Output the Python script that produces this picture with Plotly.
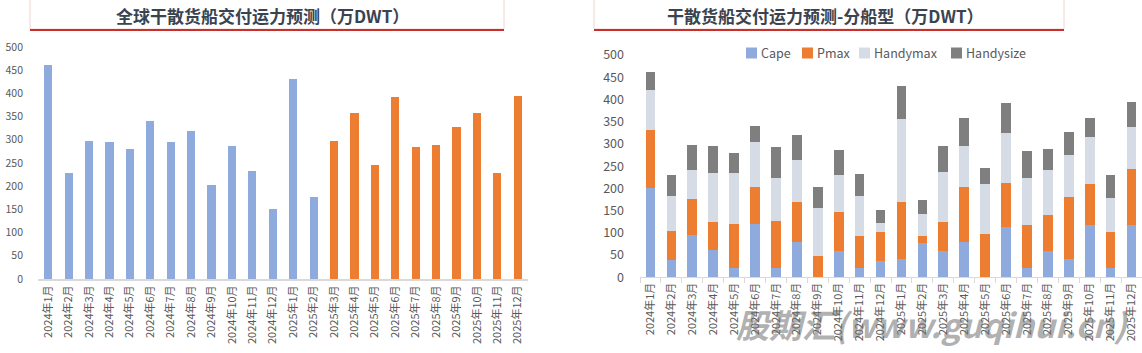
import plotly.graph_objects as go

W, H = 1142, 353

months = ["2024年1月", "2024年2月", "2024年3月", "2024年4月", "2024年5月", "2024年6月",
          "2024年7月", "2024年8月", "2024年9月", "2024年10月", "2024年11月", "2024年12月",
          "2025年1月", "2025年2月", "2025年3月", "2025年4月", "2025年5月", "2025年6月",
          "2025年7月", "2025年8月", "2025年9月", "2025年10月", "2025年11月", "2025年12月"]

total = [462, 229, 298, 296, 281, 341, 295, 320, 203, 286, 233, 151,
         432, 176, 297, 358, 245, 392, 285, 289, 327, 358, 229, 394]

cape = [201, 39, 95, 62, 20, 121, 20, 80, 0, 59, 20, 37,
        41, 78, 59, 80, 0, 114, 20, 59, 41, 118, 20, 118]
pmax = [131, 65, 82, 62, 100, 83, 106, 90, 47, 89, 73, 66,
        129, 16, 65, 122, 97, 99, 97, 82, 140, 91, 83, 126]
handymax = [89, 79, 64, 110, 115, 100, 98, 94, 108, 82, 90, 19,
            185, 48, 112, 93, 113, 112, 107, 101, 94, 107, 75, 93]
handysize = [41, 46, 56, 61, 45, 36, 70, 55, 48, 56, 49, 29,
             75, 33, 59, 63, 35, 67, 60, 47, 51, 42, 51, 57]

series_names = ["Cape", "Pmax", "Handymax", "Handysize"]

n_actual = 14  # first 14 months shown in blue, the rest (forecast) in orange
yticks = [0, 50, 100, 150, 200, 250, 300, 350, 400, 450, 500]

BLUE = "#8FAADC"
ORANGE = "#ED7D31"
LGRAY = "#D6DCE5"
DGRAY = "#7F7F7F"
TXT = "#595959"
FONT = "Noto Sans CJK SC"

def px(x):
    return x / W

def py(y):
    return 1 - y / H

fig = go.Figure()

left_colors = [BLUE if i < n_actual else ORANGE for i in range(len(months))]
fig.add_trace(go.Bar(x=months, y=total, marker=dict(color=left_colors, line=dict(width=0)),
                     width=0.4, showlegend=False, xaxis="x", yaxis="y",
                     hoverinfo="x+y"))

series = [cape, pmax, handymax, handysize]
colors = [BLUE, ORANGE, LGRAY, DGRAY]
for name, vals, col in zip(series_names, series, colors):
    fig.add_trace(go.Bar(x=months, y=vals, name=name, marker=dict(color=col, line=dict(width=0)),
                         width=0.46, xaxis="x2", yaxis="y2", showlegend=False))

common_x = dict(type="category", tickangle=-90, showgrid=False, zeroline=False,
                automargin=False, tickfont=dict(family=FONT, size=11, color=TXT),
                fixedrange=True)
common_y = dict(range=[0, 500], tickvals=yticks, showgrid=False, zeroline=False,
                showline=False, automargin=False, fixedrange=True)

fig.update_layout(
    width=W, height=H,
    margin=dict(l=0, r=0, t=0, b=0),
    paper_bgcolor="white", plot_bgcolor="white",
    barmode="stack",
    font=dict(family=FONT, color=TXT),
    xaxis=dict(domain=[px(38), px(528)], anchor="y", showline=True, linecolor="#D9D9D9",
               linewidth=2, ticks="", **common_x),
    yaxis=dict(domain=[py(279), py(47)], anchor="x", ticklabelstandoff=14,
               tickfont=dict(family=FONT, size=10.5, color=TXT), **common_y),
    xaxis2=dict(domain=[px(640), 1.0], anchor="y2", showline=True, linecolor="#D9D9D9",
                linewidth=1, ticks="outside", ticklen=5, tickcolor="#D9D9D9",
                tickson="boundaries", **common_x),
    yaxis2=dict(domain=[py(277.3), py(55)], anchor="x2", ticklabelstandoff=15,
                tickfont=dict(family=FONT, size=12.5, color=TXT), **common_y),
    showlegend=False,
    bargap=0.5,
)

# title boxes
shapes = []
for x0, x1 in [(30, 504), (594, 1064)]:
    shapes.append(dict(type="rect", xref="paper", yref="paper", x0=px(x0), x1=px(x1),
                       y0=py(29), y1=py(-1), line=dict(color="#F2D4D3", width=1),
                       fillcolor="white", layer="below"))
    shapes.append(dict(type="line", xref="paper", yref="paper", x0=px(x0), x1=px(x1),
                       y0=py(30), y1=py(30), line=dict(color="#C9302C", width=2.2)))

# legend (drawn manually to match the compact Excel-style spacing)
legend_x = [746, 802, 859, 951]
for lx, name, col in zip(legend_x, series_names, colors):
    shapes.append(dict(type="rect", xref="paper", yref="paper", x0=px(lx), x1=px(lx + 11),
                       y0=py(58.5), y1=py(47.5), line=dict(width=0), fillcolor=col))
    fig.add_annotation(text=name, xref="paper", yref="paper", x=px(lx + 13), y=py(53),
                       xanchor="left", yanchor="middle", showarrow=False,
                       font=dict(family=FONT, size=12.5, color=TXT))
fig.update_layout(shapes=shapes)

fig.add_annotation(text="<b>全球干散货船交付运力预测（万DWT）</b>", xref="paper", yref="paper",
                   x=px(262), y=py(15.5), xanchor="center", yanchor="middle", showarrow=False,
                   font=dict(family=FONT, size=17, color="#3A4350"))
fig.add_annotation(text="<b>干散货船交付运力预测-分船型（万DWT）</b>", xref="paper", yref="paper",
                   x=px(825), y=py(15.5), xanchor="center", yanchor="middle", showarrow=False,
                   font=dict(family=FONT, size=17, color="#3A4350"))
fig.add_annotation(text="<b><i>股期汇(www.guqihui.cn)</i></b>", xref="paper", yref="paper",
                   x=px(932), y=py(324), xanchor="center", yanchor="middle", showarrow=False,
                   font=dict(family=FONT, size=33, color="rgba(110,110,110,0.55)"))

fig.write_html("out.html")
